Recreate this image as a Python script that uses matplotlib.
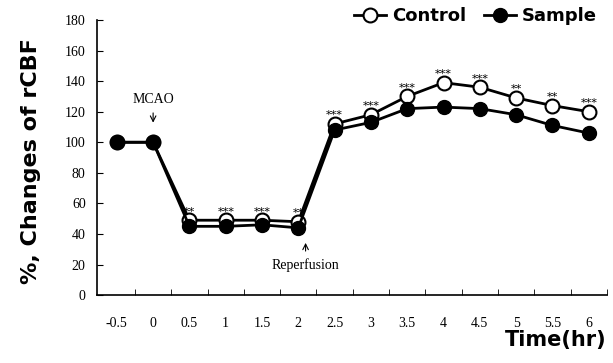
import matplotlib
matplotlib.use("Agg")
import matplotlib.pyplot as plt
import numpy as np

time_labels = ["-0.5", "0", "0.5", "1", "1.5", "2", "2.5", "3", "3.5", "4", "4.5", "5", "5.5", "6"]
control = [100, 100, 49, 49, 49, 48, 112, 118, 130, 139, 136, 129, 124, 120]
sample = [100, 100, 45, 45, 46, 44, 108, 113, 122, 123, 122, 118, 111, 106]
stars = ["", "", "**", "***", "***", "**", "***", "***", "***", "***", "***", "**", "**", "***"]
y_ticks = [0, 20, 40, 60, 80, 100, 120, 140, 160, 180]

fig = plt.figure(figsize=(6.13, 3.63), dpi=100)
ax = fig.add_axes([0.158, 0.187, 0.832, 0.758])
x = np.arange(len(time_labels))

ax.plot(x, control, color="black", lw=2, marker="o", ms=10, mfc="white", mec="black", mew=1.5, label="Control", zorder=3)
ax.plot(x, sample, color="black", lw=2, marker="o", ms=10, mfc="black", mec="black", label="Sample", zorder=4)

for xi, c, s in zip(x, control, stars):
    if s:
        ax.text(xi, c + 2.5, s, ha="center", va="bottom", fontsize=8, family="DejaVu Serif", zorder=5)

ax.set_xlim(-0.55, len(time_labels) - 0.5)
ax.set_ylim(0, 180)
ax.set_xticks(x)
ax.set_xticklabels(time_labels, family="Liberation Serif", fontsize=10)
ax.set_xticks(np.arange(len(time_labels)) + 0.5, minor=True)
ax.tick_params(axis="x", which="major", length=0, pad=16)
ax.tick_params(axis="x", which="minor", direction="in", length=4)
ax.set_yticks(y_ticks)
ax.set_yticklabels([str(v) for v in y_ticks], family="Liberation Serif", fontsize=10)
ax.tick_params(axis="y", direction="in", length=4, pad=8)
for sp in ["top", "right"]:
    ax.spines[sp].set_visible(False)
ax.spines["left"].set_linewidth(1.2)
ax.spines["bottom"].set_linewidth(1.2)

ax.annotate("", xy=(1, 111), xytext=(1, 121), arrowprops=dict(arrowstyle="->", lw=0.8, color="black"))
ax.text(1, 124, "MCAO", ha="center", va="bottom", family="Liberation Serif", fontsize=10)
ax.annotate("", xy=(5.2, 36), xytext=(5.2, 27), arrowprops=dict(arrowstyle="->", lw=0.8, color="black"))
ax.text(5.2, 24, "Reperfusion", ha="center", va="top", family="Liberation Serif", fontsize=10)

fig.text(0.05, 0.555, "%, Changes of rCBF", rotation=90, ha="center", va="center", fontsize=16, fontweight="heavy", family="DejaVu Sans")
fig.text(0.99, 0.035, "Time(hr)", ha="right", va="bottom", fontsize=15, fontweight="heavy", family="DejaVu Sans")

leg = fig.legend(loc="upper right", bbox_to_anchor=(1.0, 1.025), ncol=2, frameon=False,
                 prop=dict(weight="heavy", size=13, family="DejaVu Sans"), handlelength=1.8, columnspacing=1.0, handletextpad=0.3)

fig.savefig("out.png", dpi=100)
